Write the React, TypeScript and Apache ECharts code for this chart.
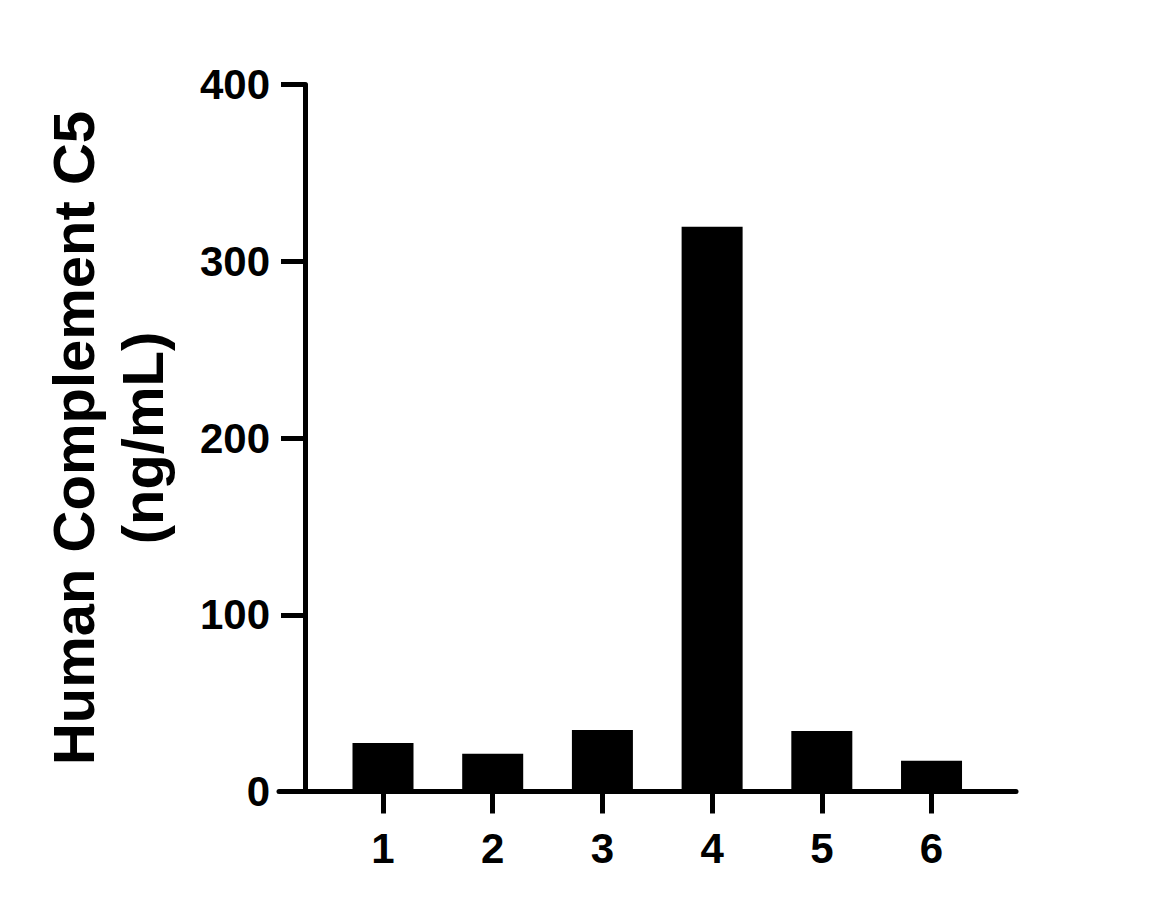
import { useEffect, useRef } from 'react';
import * as echarts from 'echarts';

// Sample numbers on the x axis and the measured C5 concentration (ng/mL).
const samples = [1, 2, 3, 4, 5, 6];
const c5Values = [27.4, 21.4, 34.8, 319.5, 34.2, 17.4];
const yTicks = [0, 100, 200, 300, 400];

const FONT = "'Liberation Sans', Arial, Helvetica, sans-serif";

export default function App() {
  const chartRef = useRef<HTMLDivElement | null>(null);

  useEffect(() => {
    if (!chartRef.current) return;
    const chart = echarts.init(chartRef.current, undefined, { renderer: 'svg' });

    chart.setOption({
      animation: false,
      backgroundColor: '#ffffff',
      textStyle: { fontFamily: FONT },
      grid: { left: 279, right: 135, top: 84.5, bottom: 116.5 },
      xAxis: {
        type: 'value',
        min: 0.052,
        max: 6.77,
        splitLine: { show: false },
        axisLine: { show: true, lineStyle: { color: '#000', width: 5 } },
        axisTick: {
          show: true,
          customValues: samples,
          length: 22,
          lineStyle: { color: '#000', width: 5 },
        },
        axisLabel: {
          customValues: samples,
          margin: 36,
          color: '#000',
          fontSize: 42,
          fontWeight: 'bold',
          fontFamily: FONT,
          formatter: (v: number) => String(v),
        },
      },
      yAxis: {
        type: 'value',
        min: yTicks[0],
        max: yTicks[yTicks.length - 1],
        interval: 100,
        offset: -26,
        splitLine: { show: false },
        axisLine: { show: true, lineStyle: { color: '#000', width: 5 } },
        axisTick: { show: true, length: 24, lineStyle: { color: '#000', width: 5 } },
        axisLabel: {
          margin: 35,
          color: '#000',
          fontSize: 42,
          fontWeight: 'bold',
          fontFamily: FONT,
        },
        name: 'Human Complement C5\n(ng/mL)',
        nameLocation: 'middle',
        nameRotate: 90,
        nameGap: 128,
        nameTextStyle: {
          color: '#000',
          fontSize: 58,
          fontWeight: 'bold',
          fontFamily: FONT,
          lineHeight: 69,
          align: 'center',
        },
      },
      series: [
        {
          type: 'bar',
          barWidth: 61,
          itemStyle: { color: '#000' },
          data: samples.map((s, i) => [s, c5Values[i]]),
        },
      ],
    });

    return () => chart.dispose();
  }, []);

  return (
    <div
      ref={chartRef}
      style={{ position: 'fixed', left: 0, top: 0, width: 1151, height: 908 }}
    />
  );
}
